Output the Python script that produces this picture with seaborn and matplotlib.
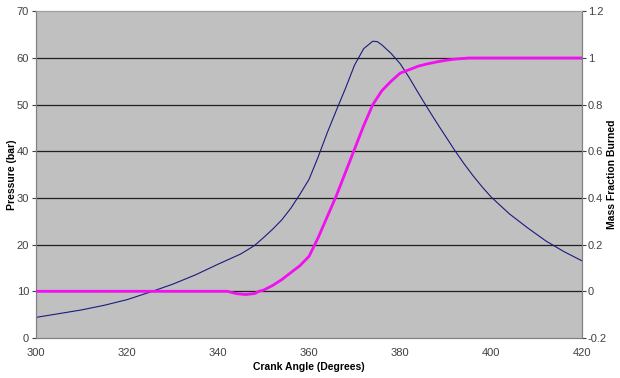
import matplotlib
matplotlib.use("Agg")
import matplotlib.pyplot as plt
import seaborn as sns
import pandas as pd

sns.set_theme(style="white")
plt.rcParams['font.family'] = ['Liberation Sans', 'DejaVu Sans']

crank_p = [300, 305, 310, 315, 320, 325, 330, 335, 340, 345, 348, 350, 352, 354, 356, 358,
           360, 362, 364, 366, 368, 370, 372, 374, 375, 376, 378, 380, 382, 384, 386, 388,
           390, 392, 394, 396, 398, 400, 404, 408, 412, 416, 420]
pressure = [4.4, 5.2, 6.0, 7.0, 8.2, 9.8, 11.5, 13.5, 15.8, 18.0, 19.8, 21.5, 23.3, 25.3, 27.8, 30.8,
            34.0, 38.8, 44.0, 48.8, 53.5, 58.5, 62.0, 63.6, 63.5, 62.8, 61.0, 58.8, 55.8, 52.5, 49.3, 46.2,
            43.2, 40.2, 37.4, 34.8, 32.4, 30.2, 26.6, 23.6, 20.8, 18.5, 16.5]

crank_m = [300, 342, 344, 346, 348, 349, 350, 352, 354, 356, 358, 360, 362, 364, 366, 368,
           370, 372, 374, 376, 378, 380, 382, 384, 386, 388, 390, 392, 395, 420]
mfb = [0.0, 0.0, -0.01, -0.014, -0.01, 0.0, 0.005, 0.025, 0.05, 0.08, 0.11, 0.15, 0.23, 0.32, 0.41, 0.51,
       0.61, 0.71, 0.80, 0.86, 0.90, 0.935, 0.95, 0.965, 0.975, 0.983, 0.99, 0.995, 1.0, 1.0]

x_ticks = [300, 320, 340, 360, 380, 400, 420]
y_ticks = [0, 10, 20, 30, 40, 50, 60, 70]
y2_ticks = [-0.2, 0, 0.2, 0.4, 0.6, 0.8, 1.0, 1.2]
y2_labels = ["-0.2", "0", "0.2", "0.4", "0.6", "0.8", "1", "1.2"]

df_p = pd.DataFrame({"angle": crank_p, "pressure": pressure})
df_m = pd.DataFrame({"angle": crank_m, "mfb": mfb})

fig = plt.figure(figsize=(6.2, 3.78), dpi=100)
ax = fig.add_axes([0.058, 0.106, 0.881, 0.864])
ax.set_facecolor("#c0c0c0")
ax2 = ax.twinx()

for y in [10, 20, 30, 40, 50, 60]:
    ax.axhline(y, color="#202020", lw=0.9, zorder=1)

sns.lineplot(data=df_p, x="angle", y="pressure", ax=ax, color="#1a1a80", lw=0.8, zorder=3)
sns.lineplot(data=df_m, x="angle", y="mfb", ax=ax2, color="#f010f0", lw=2.0, zorder=4)

ax.set_xlim(300, 420)
ax.set_ylim(0, 70)
ax2.set_ylim(-0.2, 1.2)
ax.set_xticks(x_ticks)
ax.set_yticks(y_ticks)
ax2.set_yticks(y2_ticks)
ax2.set_yticklabels(y2_labels)

tick_kw = dict(labelsize=8, colors="#404040", length=3, width=0.8, direction="out")
ax.tick_params(axis="both", **tick_kw)
ax2.tick_params(axis="y", **tick_kw)
ax.tick_params(axis="x", pad=4)
ax.tick_params(axis="y", pad=2)
ax2.tick_params(axis="y", pad=1)

ax.set_xlabel("Crank Angle (Degrees)", fontsize=7.5, fontweight="bold", color="black", labelpad=3)
ax.set_ylabel("Pressure (bar)", fontsize=7.5, fontweight="bold", color="black",
              va="center", ha="center")
ax.yaxis.set_label_coords(-0.044, 0.5)
ax2.set_ylabel("Mass Fraction Burned", fontsize=7.5, fontweight="bold", color="black",
               rotation=90, va="center", ha="center")
ax2.yaxis.set_label_coords(1.055, 0.5)

for a in (ax, ax2):
    for s in a.spines.values():
        s.set_color("#808080")
        s.set_linewidth(0.8)
    a.spines["top"].set_color("#a0a0a0")

fig.savefig("out.png", dpi=100)
